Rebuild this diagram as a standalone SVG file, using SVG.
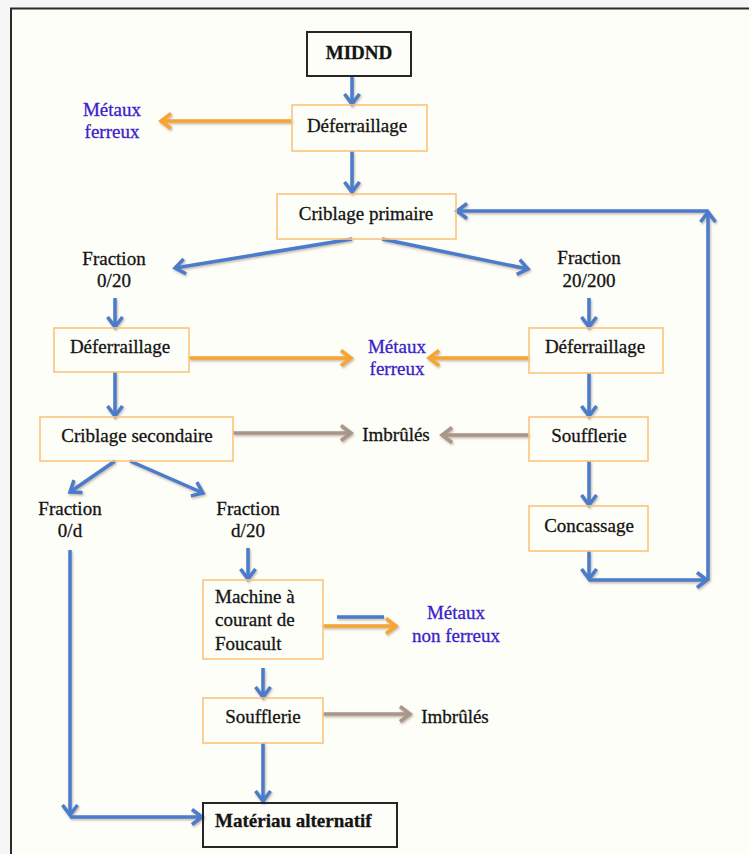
<svg xmlns="http://www.w3.org/2000/svg" width="749" height="854" viewBox="0 0 749 854">
<defs>
<style>
.box{fill:none;stroke:#FBC47C;stroke-width:1.6}
.blk{fill:none;stroke:#262626;stroke-width:2}
.t{font-family:"Liberation Serif","Times New Roman",serif;font-size:19px;fill:#141414;stroke:#141414;stroke-width:0.3}
.c{text-anchor:middle}
.b{font-weight:bold}
.bl{fill:#3A22C8;stroke:#3A22C8}
.ab{fill:none;stroke:#4A7CCB;stroke-width:3.5}
.ao{fill:none;stroke:#F6A532;stroke-width:3.5}
.ar{fill:none;stroke:#A8968A;stroke-width:3.5}
</style>
<filter id="sh" x="-20%" y="-20%" width="140%" height="140%">
<feDropShadow dx="1" dy="1.5" stdDeviation="1" flood-color="#7a5a40" flood-opacity="0.45"/>
</filter>
<marker id="mb" markerUnits="userSpaceOnUse" viewBox="0 0 20 20" markerWidth="20" markerHeight="20" refX="11" refY="10" orient="auto">
<path d="M1,2.5 L11,10 L1,17.5" fill="none" stroke="#4A7CCB" stroke-width="3.5"/>
</marker>
<marker id="mo" markerUnits="userSpaceOnUse" viewBox="0 0 20 20" markerWidth="20" markerHeight="20" refX="11" refY="10" orient="auto">
<path d="M1,2.5 L11,10 L1,17.5" fill="none" stroke="#F6A532" stroke-width="3.5"/>
</marker>
<marker id="mr" markerUnits="userSpaceOnUse" viewBox="0 0 20 20" markerWidth="20" markerHeight="20" refX="11" refY="10" orient="auto">
<path d="M1,2.5 L11,10 L1,17.5" fill="none" stroke="#A8968A" stroke-width="3.5"/>
</marker>
</defs>
<rect x="0" y="0" width="749" height="854" fill="#F6F6F6"/>
<rect x="11" y="8" width="738" height="846" fill="#FEFEF9"/>
<path d="M11,854 L11,8.5 L749,8.5" fill="none" stroke="#2b2b2b" stroke-width="2"/>

<g id="connectors" filter="url(#sh)">
<path class="ab" d="M352,76 L352,104" marker-end="url(#mb)"/>
<path class="ao" d="M292,121 L161,121" marker-end="url(#mo)"/>
<path class="ab" d="M352,151 L352,192" marker-end="url(#mb)"/>
<path class="ab" d="M352,239 L175,268" marker-end="url(#mb)"/>
<path class="ab" d="M382,239 L528,269" marker-end="url(#mb)"/>
<path class="ab" d="M115,298 L115,327" marker-end="url(#mb)"/>
<path class="ab" d="M589,298 L589,327" marker-end="url(#mb)"/>
<path class="ao" d="M189,358 L351,358" marker-end="url(#mo)"/>
<path class="ao" d="M529,358 L429,358" marker-end="url(#mo)"/>
<path class="ab" d="M115,372 L115,416" marker-end="url(#mb)"/>
<path class="ab" d="M589,373 L589,416" marker-end="url(#mb)"/>
<path class="ar" d="M233,433 L351,433" marker-end="url(#mr)"/>
<path class="ar" d="M529,435 L442,435" marker-end="url(#mr)"/>
<path class="ab" d="M589,461 L589,505" marker-end="url(#mb)"/>
<path class="ab" d="M115,461 L70,492" marker-end="url(#mb)"/>
<path class="ab" d="M130,461 L203,493" marker-end="url(#mb)"/>
<path class="ab" d="M589,551 L589,579" marker-end="url(#mb)"/>
<path class="ab" d="M589,580 L707,580" marker-end="url(#mb)"/>
<path class="ab" d="M708,580 L708,212" marker-end="url(#mb)"/>
<path class="ab" d="M708,211 L457,211" marker-end="url(#mb)"/>
<path class="ab" d="M248,548 L248,579" marker-end="url(#mb)"/>
<path class="ao" d="M323,626 L396,626" marker-end="url(#mo)"/>
<path class="ab" d="M337,617 L384,617"/>
<path class="ab" d="M263,668 L263,697" marker-end="url(#mb)"/>
<path class="ar" d="M323,714 L410,714" marker-end="url(#mr)"/>
<path class="ab" d="M263,743 L263,801" marker-end="url(#mb)"/>
<path class="ab" d="M70,550 L70,815" marker-end="url(#mb)"/>
<path class="ab" d="M70,817 L202,817" marker-end="url(#mb)"/>
</g>

<g id="midnd"><rect class="blk" x="307" y="32" width="104" height="44"/><text class="t c b" x="359" y="59">MIDND</text></g>
<g id="deferraillage1"><rect class="box" x="292" y="105" width="135" height="46"/><text class="t c" x="357" y="132">Déferraillage</text></g>
<g id="metaux1"><text class="t c bl" x="112" y="116">Métaux</text><text class="t c bl" x="112" y="138">ferreux</text></g>
<g id="criblage-primaire"><rect class="box" x="277" y="194" width="179" height="45"/><text class="t c" x="366" y="220">Criblage primaire</text></g>
<g id="fraction-0-20"><text class="t c" x="114" y="265">Fraction</text><text class="t c" x="114" y="287">0/20</text></g>
<g id="fraction-20-200"><text class="t c" x="589" y="264">Fraction</text><text class="t c" x="589" y="287">20/200</text></g>
<g id="deferraillage2"><rect class="box" x="54" y="328" width="135" height="44"/><text class="t c" x="120" y="353">Déferraillage</text></g>
<g id="deferraillage3"><rect class="box" x="529" y="328" width="134" height="45"/><text class="t c" x="595" y="353">Déferraillage</text></g>
<g id="metaux2"><text class="t c bl" x="397" y="353">Métaux</text><text class="t c bl" x="397" y="375">ferreux</text></g>
<g id="criblage-secondaire"><rect class="box" x="40" y="417" width="193" height="44"/><text class="t c" x="137" y="442">Criblage secondaire</text></g>
<g id="imbrules1"><text class="t c" x="396" y="441">Imbrûlés</text></g>
<g id="soufflerie1"><rect class="box" x="529" y="417" width="119" height="44"/><text class="t c" x="589" y="442">Soufflerie</text></g>
<g id="concassage"><rect class="box" x="529" y="506" width="119" height="45"/><text class="t c" x="589" y="532">Concassage</text></g>
<g id="fraction-0-d"><text class="t c" x="70" y="515">Fraction</text><text class="t c" x="70" y="537">0/d</text></g>
<g id="fraction-d-20"><text class="t c" x="248" y="515">Fraction</text><text class="t c" x="248" y="537">d/20</text></g>
<g id="machine"><rect class="box" x="203" y="580" width="120" height="79"/><text class="t" x="215" y="603">Machine à</text><text class="t" x="215" y="626">courant de</text><text class="t" x="215" y="650">Foucault</text></g>
<g id="metaux3"><text class="t c bl" x="456" y="619">Métaux</text><text class="t c bl" x="456" y="642">non ferreux</text></g>
<g id="soufflerie2"><rect class="box" x="203" y="698" width="120" height="45"/><text class="t c" x="263" y="723">Soufflerie</text></g>
<g id="imbrules2"><text class="t c" x="455" y="723">Imbrûlés</text></g>
<g id="materiau"><rect class="blk" x="203" y="803" width="194" height="44"/><text class="t b" x="215" y="827">Matériau alternatif</text></g>
</svg>
